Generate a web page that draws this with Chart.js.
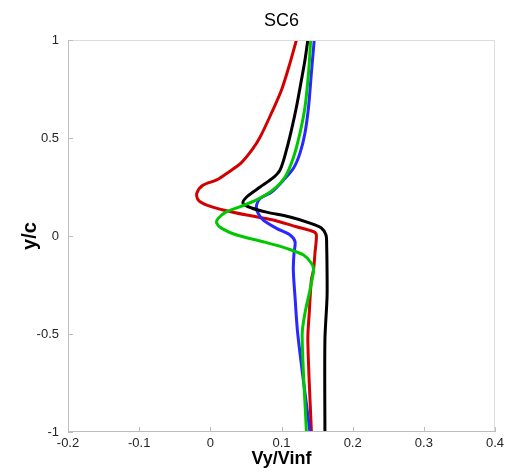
<!DOCTYPE html>
<html>
<head>
<meta charset="utf-8">
<script src="https://cdn.jsdelivr.net/npm/chart.js@4.4.1/dist/chart.umd.min.js"></script>
<style>
html,body{margin:0;padding:0;background:#fff;}
#wrap{width:505px;height:473px;}
</style>
</head>
<body>
<div id="wrap"><canvas id="c" width="505" height="473"></canvas></div>
<script>
// ---- data (x = Vy/Vinf, y = y/c) ----
const chartTitle = 'SC6';
const xTicks = [-0.2, -0.1, 0, 0.1, 0.2, 0.3, 0.4];
const yTicks = [-1, -0.5, 0, 0.5, 1];

const blackX = [0.137, 0.133, 0.128, 0.121, 0.114, 0.107, 0.098, 0.088, 0.070, 0.051, 0.046, 0.058, 0.079, 0.112, 0.140, 0.156, 0.1625, 0.1635, 0.164, 0.164, 0.161, 0.161];
const blackY = [1.0, 0.898, 0.796, 0.658, 0.541, 0.439, 0.337, 0.296, 0.250, 0.199, 0.167, 0.143, 0.122, 0.097, 0.066, 0.041, 0.005, -0.056, -0.173, -0.311, -0.531, -1.0];

const redX = [0.121, 0.112, 0.100, 0.086, 0.070, 0.0585, 0.043, 0.026, 0.009, -0.010, -0.019, -0.017, -0.005, 0.018, 0.051, 0.0885, 0.121, 0.145, 0.149, 0.147, 0.145, 0.142, 0.139, 0.137, 0.142];
const redY = [1.0, 0.883, 0.745, 0.628, 0.505, 0.439, 0.372, 0.327, 0.286, 0.260, 0.218, 0.184, 0.158, 0.133, 0.107, 0.082, 0.047, 0.022, 0.005, -0.088, -0.173, -0.224, -0.393, -0.531, -1.0];

const blueX = [0.146, 0.142, 0.138, 0.133, 0.126, 0.117, 0.103, 0.086, 0.070, 0.065, 0.066, 0.074, 0.093, 0.112, 0.119, 0.1176, 0.1166, 0.119, 0.123, 0.140];
const blueY = [1.0, 0.832, 0.658, 0.526, 0.423, 0.347, 0.286, 0.224, 0.192, 0.158, 0.124, 0.082, 0.039, 0.005, -0.029, -0.088, -0.173, -0.311, -0.505, -1.0];

const greenX = [0.141, 0.138, 0.133, 0.126, 0.117, 0.105, 0.088, 0.065, 0.042, 0.023, 0.011, 0.009, 0.016, 0.037, 0.074, 0.107, 0.131, 0.142, 0.145, 0.140, 0.133, 0.129, 0.135];
const greenY = [1.0, 0.832, 0.658, 0.526, 0.403, 0.301, 0.235, 0.184, 0.150, 0.124, 0.090, 0.065, 0.039, 0.005, -0.029, -0.063, -0.097, -0.139, -0.173, -0.276, -0.393, -0.505, -1.0];

function pts(xs, ys){ return xs.map((x,i)=>({x:x, y:ys[i]})); }

const FONT = "'Liberation Sans', Arial, sans-serif";

const frame = {
  id:'frame',
  afterDraw(chart){
    const {ctx, chartArea:a, scales} = chart;
    ctx.save();
    ctx.strokeStyle = '#dcdcdc';
    ctx.lineWidth = 1;
    ctx.beginPath();
    ctx.moveTo(a.left, a.top+0.5); ctx.lineTo(a.right-0.5, a.top+0.5); ctx.lineTo(a.right-0.5, a.bottom);
    ctx.stroke();
    ctx.strokeStyle = '#bdbdbd';
    ctx.beginPath();
    ctx.moveTo(a.left+0.5, a.top); ctx.lineTo(a.left+0.5, a.bottom-0.5); ctx.lineTo(a.right, a.bottom-0.5);
    ctx.stroke();
    // inward ticks
    ctx.beginPath();
    xTicks.forEach(v=>{ const p=Math.round(scales.x.getPixelForValue(v))+0.5; ctx.moveTo(p,a.bottom); ctx.lineTo(p,a.bottom-5); });
    yTicks.forEach(v=>{ const p=Math.round(scales.y.getPixelForValue(v))+0.5; ctx.moveTo(a.left,p); ctx.lineTo(a.left+5,p); });
    ctx.stroke();
    // title centred over plot area
    ctx.fillStyle = '#000';
    ctx.font = "18px " + FONT;
    ctx.textAlign = 'center';
    ctx.textBaseline = 'middle';
    ctx.fillText(chartTitle, (a.left + a.right)/2, 21);
    ctx.restore();
  }
};

function ds(label, xs, ys, color){
  return {label, data: pts(xs, ys), showLine:true, borderColor:color, backgroundColor:color,
    borderWidth:3, pointRadius:0, tension:0.3, fill:false};
}

new Chart(document.getElementById('c'), {
  type:'scatter',
  data:{ datasets:[
    ds('green', greenX, greenY, '#00c800'),
    ds('black', blackX, blackY, '#000000'),
    ds('blue', blueX, blueY, '#2828ff'),
    ds('red', redX, redY, '#d20000')
  ]},
  options:{
    responsive:false, animation:false, devicePixelRatio:1,
    layout:{padding:{top:40, right:0, left:0, bottom:0}},
    plugins:{ legend:{display:false}, tooltip:{enabled:false}, title:{display:false} },
    scales:{
      x:{type:'linear', min:-0.2, max:0.4,
        afterBuildTicks(s){ s.ticks = xTicks.map(v=>({value:v})); },
        afterFit(s){ s.height = 41; s.paddingRight = 10; s.paddingLeft = 0; },
        grid:{display:true, drawOnChartArea:false, drawTicks:false}, border:{display:false},
        ticks:{padding:4, color:'#262626', font:{family:FONT, size:13}, maxRotation:0, callback:v=>String(v)},
        title:{display:true, text:'Vy/Vinf', color:'#000', font:{family:FONT, size:18, weight:'bold'}, padding:{top:0, bottom:3}}
      },
      y:{type:'linear', min:-1, max:1,
        afterBuildTicks(s){ s.ticks = yTicks.map(v=>({value:v})); },
        afterFit(s){ s.width = 68; },
        grid:{display:true, drawOnChartArea:false, drawTicks:false}, border:{display:false},
        ticks:{padding:9, color:'#262626', font:{family:FONT, size:13}, callback:v=>String(v)},
        title:{display:true, text:'y/c', color:'#000', font:{family:FONT, size:20, weight:'bold'}, padding:{top:18, bottom:0}}
      }
    }
  },
  plugins:[frame]
});
</script>
</body>
</html>
